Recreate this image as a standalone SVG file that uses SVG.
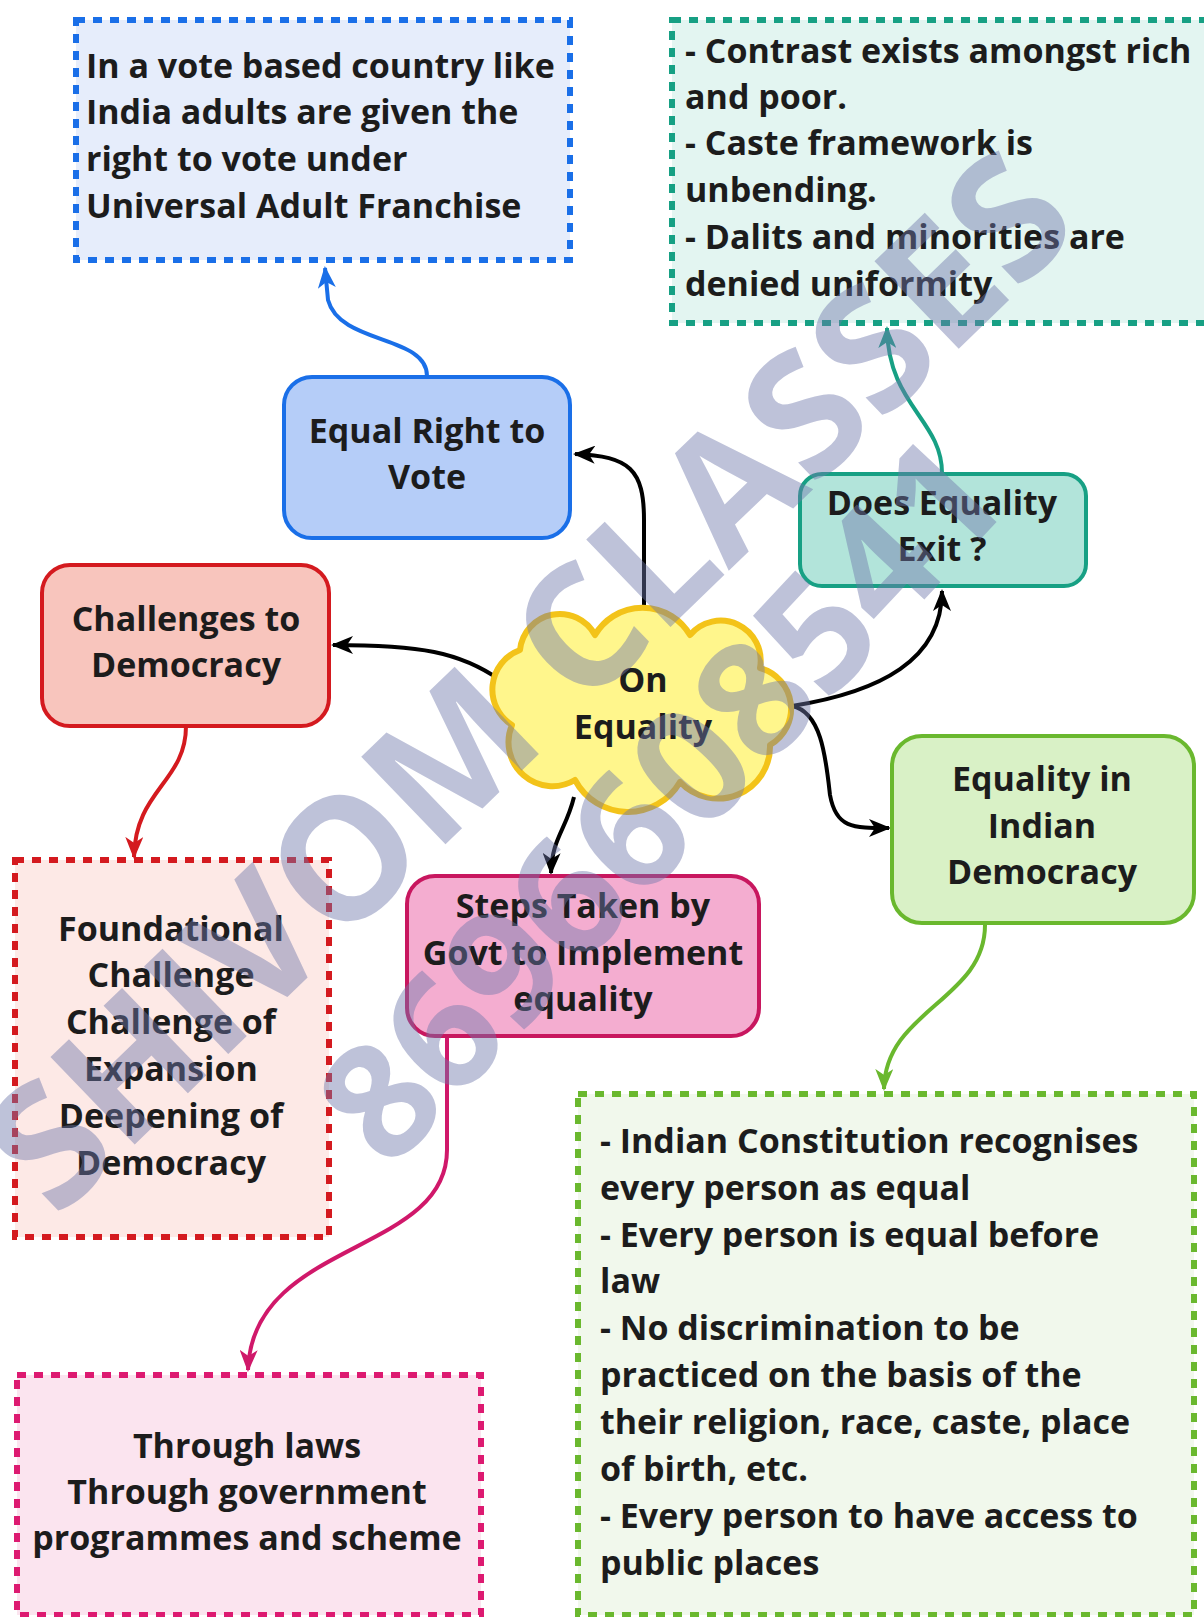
<svg xmlns="http://www.w3.org/2000/svg" width="1204" height="1617" viewBox="0 0 1204 1617">
<style>
text{font-family:"Open Sans","Noto Sans","Liberation Sans",sans-serif;font-weight:700;font-size:34px;fill:#1c1c1c}
.c{text-anchor:middle}
.conn{fill:none;stroke-width:4}
text.wm{font-family:"Open Sans","Liberation Sans",sans-serif;font-weight:700;fill:#6e78aa;fill-opacity:0.45;text-anchor:middle}
text.wm1{font-size:170px}
text.wm2{font-size:160px}
</style>
<defs>
<marker id="mk" viewBox="0 0 22 18" refX="20" refY="9" markerWidth="22" markerHeight="18" markerUnits="userSpaceOnUse" orient="auto"><path d="M0,0 L22,9 L0,18 L6,9 Z" fill="#000"/></marker>
<marker id="mb" viewBox="0 0 22 18" refX="20" refY="9" markerWidth="22" markerHeight="18" markerUnits="userSpaceOnUse" orient="auto"><path d="M0,0 L22,9 L0,18 L6,9 Z" fill="#1a6fe8"/></marker>
<marker id="mt" viewBox="0 0 22 18" refX="20" refY="9" markerWidth="22" markerHeight="18" markerUnits="userSpaceOnUse" orient="auto"><path d="M0,0 L22,9 L0,18 L6,9 Z" fill="#17a084"/></marker>
<marker id="mr" viewBox="0 0 22 18" refX="20" refY="9" markerWidth="22" markerHeight="18" markerUnits="userSpaceOnUse" orient="auto"><path d="M0,0 L22,9 L0,18 L6,9 Z" fill="#d41a1f"/></marker>
<marker id="mp" viewBox="0 0 22 18" refX="20" refY="9" markerWidth="22" markerHeight="18" markerUnits="userSpaceOnUse" orient="auto"><path d="M0,0 L22,9 L0,18 L6,9 Z" fill="#d0186a"/></marker>
<marker id="mg" viewBox="0 0 22 18" refX="20" refY="9" markerWidth="22" markerHeight="18" markerUnits="userSpaceOnUse" orient="auto"><path d="M0,0 L22,9 L0,18 L6,9 Z" fill="#6ab82e"/></marker>
</defs>
<rect width="1204" height="1617" fill="#fff"/>

<g id="connectors">
<path class="conn" stroke="#1a6fe8" d="M427,376 C427,335 340,345 328,300 L325,268" marker-end="url(#mb)"/>
<path class="conn" stroke="#17a084" d="M942,473 C942,420 888,405 887,328" marker-end="url(#mt)"/>
<path class="conn" stroke="#000" d="M644,605 L644,520 C644,470 630,456 575,454" marker-end="url(#mk)"/>
<path class="conn" stroke="#000" d="M500,680 C460,652 420,645 333,645" marker-end="url(#mk)"/>
<path class="conn" stroke="#000" d="M792,706 C880,692 942,660 942,591" marker-end="url(#mk)"/>
<path class="conn" stroke="#000" d="M792,706 C822,712 826,760 830,795 C836,828 852,828 889,828" marker-end="url(#mk)"/>
<path class="conn" stroke="#000" d="M574,797 C566,830 552,838 551,873" marker-end="url(#mk)"/>
<path class="conn" stroke="#d41a1f" d="M186,726 C186,782 135,790 134,857" marker-end="url(#mr)"/>
<path class="conn" stroke="#d0186a" d="M447,1036 L447,1150 C447,1255 252,1240 248,1370" marker-end="url(#mp)"/>
<path class="conn" stroke="#6ab82e" d="M985,925 C985,1000 885,1010 884,1089" marker-end="url(#mg)"/>
</g>

<g id="vote-info">
<rect x="76" y="20" width="494" height="240" fill="#e6edfb" stroke="#1a6fe8" stroke-width="6" stroke-dasharray="9 8"/>
<text x="86" y="78">In a vote based country like</text>
<text x="86" y="124">India adults are given the</text>
<text x="86" y="171">right to vote under</text>
<text x="86" y="218">Universal Adult Franchise</text>
</g>

<g id="equality-info">
<rect x="672" y="20" width="540" height="303" fill="#e3f5f1" stroke="#17a084" stroke-width="6" stroke-dasharray="9 8"/>
<text x="685" y="63">- Contrast exists amongst rich</text>
<text x="685" y="109">and poor.</text>
<text x="685" y="155">- Caste framework is</text>
<text x="685" y="202">unbending.</text>
<text x="685" y="249">- Dalits and minorities are</text>
<text x="685" y="296">denied uniformity</text>
</g>

<g id="equal-right">
<rect x="284" y="377" width="286" height="161" rx="28" fill="#b5cdf8" stroke="#1a6fe8" stroke-width="4"/>
<text class="c" x="427" y="443">Equal Right to</text>
<text class="c" x="427" y="489">Vote</text>
</g>

<g id="does-equality">
<rect x="800" y="474" width="286" height="112" rx="22" fill="#b2e4da" stroke="#17a084" stroke-width="4"/>
<text class="c" x="942" y="515">Does Equality</text>
<text class="c" x="942" y="561">Exit ?</text>
</g>

<g id="challenges">
<rect x="42" y="565" width="287" height="161" rx="28" fill="#f8c5bd" stroke="#d41a1f" stroke-width="4"/>
<text class="c" x="186" y="631">Challenges to</text>
<text class="c" x="186" y="677">Democracy</text>
</g>

<g id="on-equality">
<path d="M520,650 A40,40 0 0 1 595,635 A55,55 0 0 1 690,635 A40,40 0 0 1 760,668 A42,42 0 0 1 770,745 A52,52 0 0 1 680,782 A60,60 0 0 1 575,780 A44,44 0 0 1 512,725 A42,42 0 0 1 520,650 Z" fill="#fff68c" stroke="#f3c319" stroke-width="6" stroke-linejoin="round"/>
<text class="c" x="643" y="692">On</text>
<text class="c" x="643" y="739">Equality</text>
</g>

<g id="indian-democracy">
<rect x="892" y="736" width="302" height="187" rx="30" fill="#d9f1c6" stroke="#6ab82e" stroke-width="4"/>
<text class="c" x="1042" y="791">Equality in</text>
<text class="c" x="1042" y="838">Indian</text>
<text class="c" x="1042" y="884">Democracy</text>
</g>

<g id="steps">
<rect x="407" y="876" width="352" height="160" rx="28" fill="#f4add0" stroke="#c8175f" stroke-width="4"/>
<text class="c" x="583" y="918">Steps Taken by</text>
<text class="c" x="583" y="965">Govt to Implement</text>
<text class="c" x="583" y="1011">equality</text>
</g>

<g id="challenge-list">
<rect x="15" y="860" width="314" height="377" fill="#fde9e6" stroke="#d41a1f" stroke-width="6" stroke-dasharray="9 8"/>
<text class="c" x="171" y="941">Foundational</text>
<text class="c" x="171" y="987">Challenge</text>
<text class="c" x="171" y="1034">Challenge of</text>
<text class="c" x="171" y="1081">Expansion</text>
<text class="c" x="171" y="1128">Deepening of</text>
<text class="c" x="171" y="1175">Democracy</text>
</g>

<g id="steps-list">
<rect x="17" y="1375" width="464" height="240" fill="#fbe4ef" stroke="#dd1a71" stroke-width="6" stroke-dasharray="9 8"/>
<text class="c" x="247" y="1458">Through laws</text>
<text class="c" x="247" y="1504">Through government</text>
<text class="c" x="247" y="1550">programmes and scheme</text>
</g>

<g id="democracy-list">
<rect x="578" y="1094" width="616" height="521" fill="#f1f8ec" stroke="#6ab82e" stroke-width="6" stroke-dasharray="9 8"/>
<text x="600" y="1153">- Indian Constitution recognises</text>
<text x="600" y="1200">every person as equal</text>
<text x="600" y="1247">- Every person is equal before</text>
<text x="600" y="1293">law</text>
<text x="600" y="1340">- No discrimination to be</text>
<text x="600" y="1387">practiced on the basis of the</text>
<text x="600" y="1434">their religion, race, caste, place</text>
<text x="600" y="1481">of birth, etc.</text>
<text x="600" y="1528">- Every person to have access to</text>
<text x="600" y="1575">public places</text>
</g>

<g id="watermark">
<text class="wm wm1" transform="translate(570,724) rotate(-44)">SHIVOM CLASSES</text>
<text class="wm wm2" transform="translate(702,838) rotate(-47)">8696608541</text>
</g>
</svg>
